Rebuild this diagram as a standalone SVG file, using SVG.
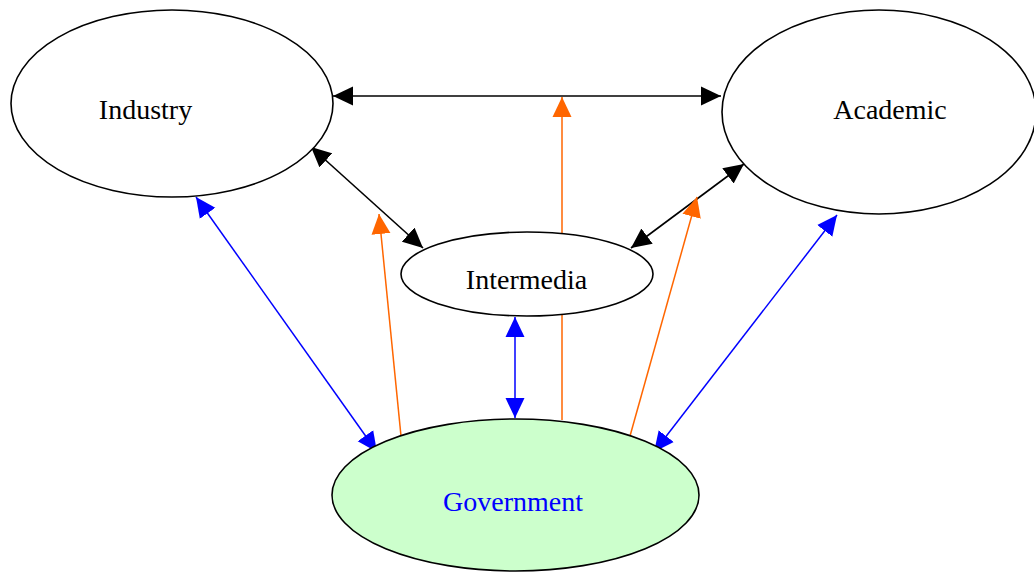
<svg xmlns="http://www.w3.org/2000/svg" width="1034" height="572" viewBox="0 0 1034 572">
<style>
.node ellipse{stroke:#000;stroke-width:1.6;fill:#fff}
.node text{font-family:"Liberation Serif","Times New Roman",serif;font-size:28px;fill:#000;text-anchor:middle}
.k{stroke:#000;stroke-width:1.6;fill:none}
.o{stroke:#ff6600;stroke-width:1.5;fill:none}
.b{stroke:#0000ff;stroke-width:1.5;fill:none}
</style>
<defs>
<marker id="ak" viewBox="0 0 20 20" refX="20" refY="10" markerWidth="20" markerHeight="20" markerUnits="userSpaceOnUse" orient="auto-start-reverse"><path d="M0,0.5 L20,10 L0,19.5 Z" fill="#000"/></marker>
<marker id="ao" viewBox="0 0 20 20" refX="20" refY="10" markerWidth="20" markerHeight="20" markerUnits="userSpaceOnUse" orient="auto-start-reverse"><path d="M0,0.5 L20,10 L0,19.5 Z" fill="#ff6600"/></marker>
<marker id="ab" viewBox="0 0 20 20" refX="20" refY="10" markerWidth="20" markerHeight="20" markerUnits="userSpaceOnUse" orient="auto-start-reverse"><path d="M0,0.5 L20,10 L0,19.5 Z" fill="#0000ff"/></marker>
</defs>
<g id="connectors">
<line class="k" x1="333" y1="96" x2="721" y2="96" marker-start="url(#ak)" marker-end="url(#ak)"/>
<line class="k" x1="311" y1="147" x2="423" y2="248" marker-start="url(#ak)" marker-end="url(#ak)"/>
<line class="k" x1="744" y1="164" x2="631" y2="248" marker-start="url(#ak)" marker-end="url(#ak)"/>
<line class="o" x1="562" y1="420" x2="562" y2="97" marker-end="url(#ao)"/>
<line class="o" x1="401" y1="436" x2="379" y2="214" marker-end="url(#ao)"/>
<line class="o" x1="630" y1="436" x2="697" y2="197" marker-end="url(#ao)"/>
<line class="b" x1="196" y1="197" x2="377" y2="452" marker-start="url(#ab)" marker-end="url(#ab)"/>
<line class="b" x1="837" y1="215" x2="654" y2="452" marker-start="url(#ab)" marker-end="url(#ab)"/>
<line class="b" x1="515" y1="317" x2="515" y2="418" marker-start="url(#ab)" marker-end="url(#ab)"/>
</g>
<g id="industry" class="node">
<ellipse cx="172" cy="103.5" rx="161" ry="93.5"/>
<text x="145.5" y="119">Industry</text>
</g>
<g id="academic" class="node">
<ellipse cx="879" cy="112" rx="157" ry="102"/>
<text x="890" y="119">Academic</text>
</g>
<g id="intermedia" class="node">
<ellipse cx="527" cy="274" rx="126" ry="42"/>
<text x="526.5" y="289">Intermedia</text>
</g>
<g id="government" class="node">
<ellipse cx="515.5" cy="495" rx="183.5" ry="76" style="fill:#ccffcc"/>
<text x="513" y="511" style="fill:#0000ff">Government</text>
</g>
</svg>
